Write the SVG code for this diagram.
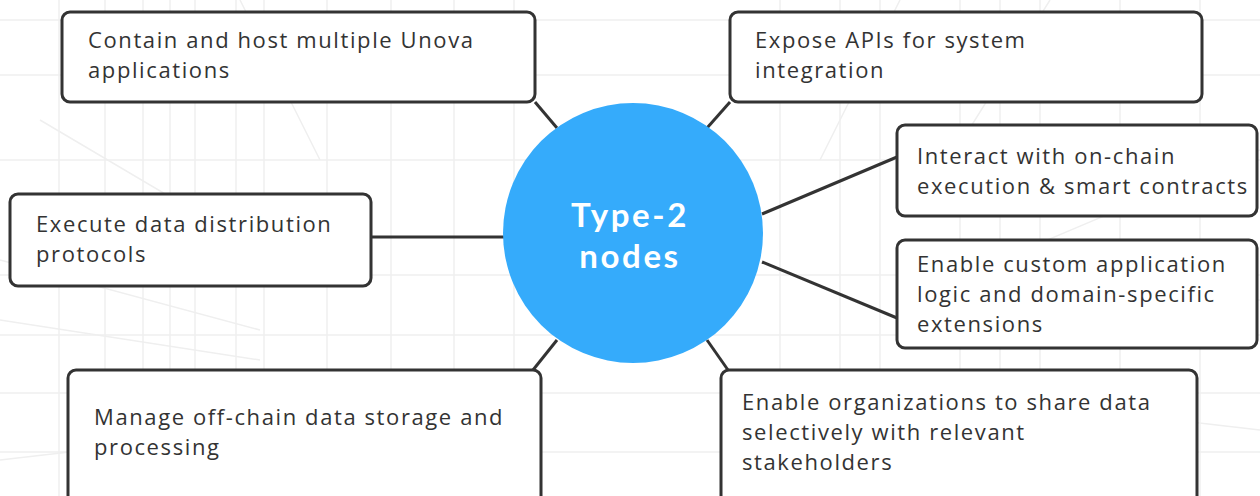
<svg xmlns="http://www.w3.org/2000/svg" width="1260" height="496" viewBox="0 0 1260 496">
<style>
.bg{stroke:#efefef;stroke-width:1.5;fill:none}
.box{fill:#fff;stroke:#333;stroke-width:3}
.t{font-family:"Open Sans","Liberation Sans",sans-serif;font-size:22px;letter-spacing:1.6px;fill:#333}
.c{stroke:#333;stroke-width:3;fill:none}
.ct{font-family:Lato,"Liberation Sans",sans-serif;font-size:33px;letter-spacing:2.6px;font-weight:bold;fill:#fff;text-anchor:middle}
</style>
<rect width="1260" height="496" fill="#fff"/>
<g id="background">
<path class="bg" d="M0 20H1260M0 75H1260M0 160H1260M0 275H1260M0 335H1260M0 393H1260M0 452H1260"/>
<path class="bg" d="M59 0V496M105 0V496M143 0V496M170 0V496M195 0V496M236 0V496M264 0V496M327 0V496M391 0V496M454 0V496M514 0V496M780 0V496M840 0V496M880 0V496M960 0V496M1000 0V496M1040 0V496M1120 0V496M1200 0V496"/>
<path class="bg" d="M0 260L260 330M0 320L260 360M0 460L260 430M40 120L260 250M240 0L320 160M1260 150L1000 260M1260 300L1000 330M1260 430L1000 400M900 0L820 160M1050 0L950 160"/>
</g>
<g id="connectors">
<line class="c" x1="535" y1="102" x2="557" y2="128"/>
<line class="c" x1="730" y1="102" x2="707" y2="128"/>
<line class="c" x1="897" y1="157" x2="762" y2="214"/>
<line class="c" x1="897" y1="318" x2="762" y2="262"/>
<line class="c" x1="371" y1="237" x2="505" y2="237"/>
<line class="c" x1="533" y1="370" x2="557" y2="340"/>
<line class="c" x1="728" y1="370" x2="707" y2="340"/>
</g>
<g id="center">
<circle cx="633" cy="233" r="130" fill="#35abfb"/>
<text class="ct" x="630" y="227">Type-2</text>
<text class="ct" x="630" y="268">nodes</text>
</g>
<g id="n1">
<rect class="box" x="62" y="12" width="473" height="90" rx="8"/>
<text class="t" x="88" y="48">Contain and host multiple Unova</text>
<text class="t" x="88" y="78">applications</text>
</g>
<g id="n2">
<rect class="box" x="730" y="12" width="472" height="90" rx="8"/>
<text class="t" x="755" y="48">Expose APIs for system</text>
<text class="t" x="755" y="78">integration</text>
</g>
<g id="n3">
<rect class="box" x="897" y="125" width="360" height="91" rx="8"/>
<text class="t" x="917" y="164">Interact with on-chain</text>
<text class="t" x="917" y="194">execution &amp; smart contracts</text>
</g>
<g id="n4">
<rect class="box" x="897" y="240" width="360" height="108" rx="8"/>
<text class="t" x="917" y="272">Enable custom application</text>
<text class="t" x="917" y="302">logic and domain-specific</text>
<text class="t" x="917" y="332">extensions</text>
</g>
<g id="n5">
<rect class="box" x="10" y="194" width="361" height="92" rx="8"/>
<text class="t" x="36" y="232">Execute data distribution</text>
<text class="t" x="36" y="262">protocols</text>
</g>
<g id="n6">
<rect class="box" x="68" y="370" width="473" height="140" rx="8"/>
<text class="t" x="94" y="425">Manage off-chain data storage and</text>
<text class="t" x="94" y="455">processing</text>
</g>
<g id="n7">
<rect class="box" x="721" y="370" width="476" height="140" rx="8"/>
<text class="t" x="742" y="410">Enable organizations to share data</text>
<text class="t" x="742" y="440">selectively with relevant</text>
<text class="t" x="742" y="470">stakeholders</text>
</g>
</svg>
